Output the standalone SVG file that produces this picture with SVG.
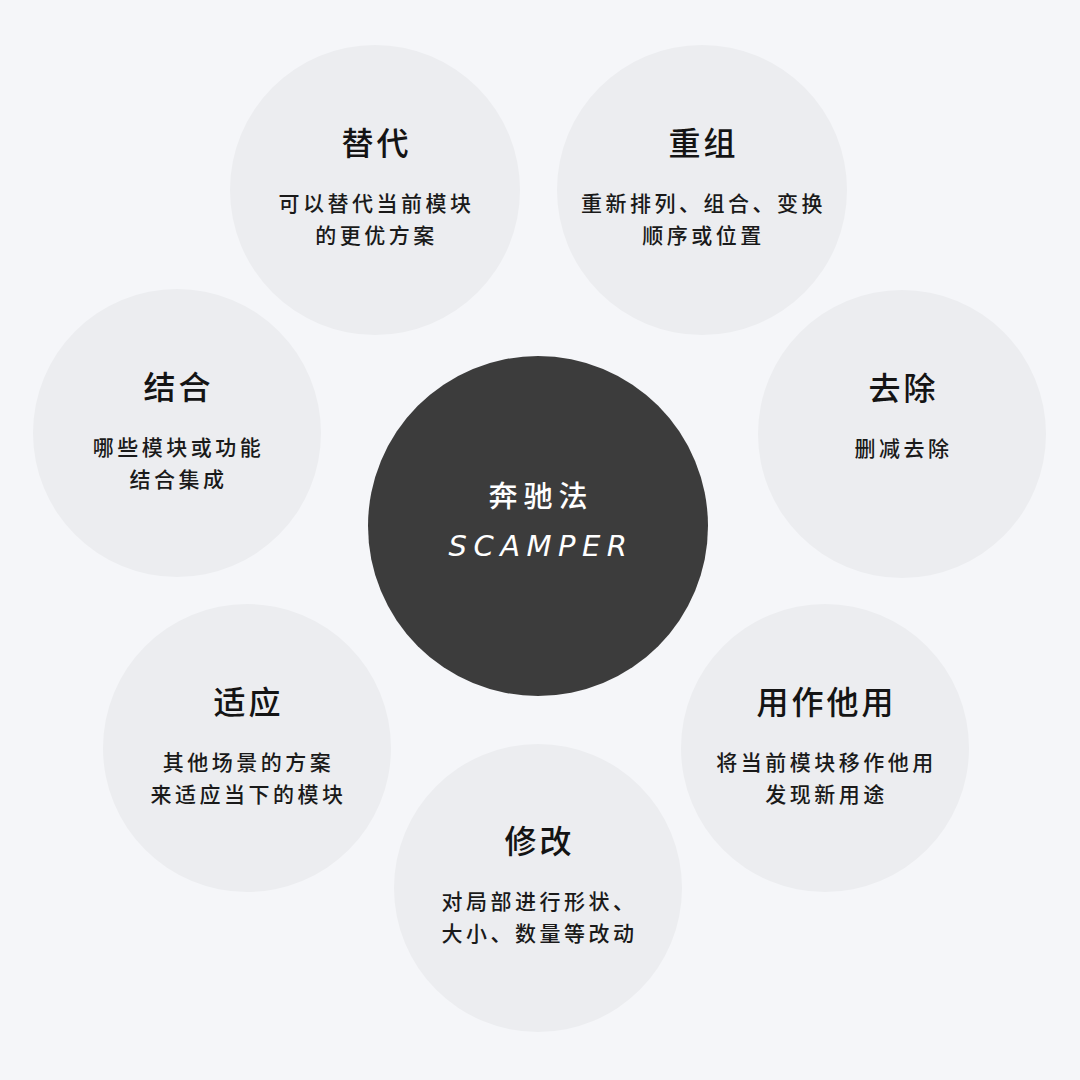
<svg xmlns="http://www.w3.org/2000/svg" width="1080" height="1080" viewBox="0 0 1080 1080">
<style>
.bg{fill:#f5f6f9}
.c{fill:#ecedf0}
.core{fill:#3c3c3c}
.t{font-family:"Noto Sans CJK SC","Noto Sans",sans-serif;font-size:32px;font-weight:500;fill:#141414;text-anchor:middle;dominant-baseline:central;letter-spacing:3px}
.s{font-family:"Noto Sans CJK SC","Noto Sans",sans-serif;font-size:21px;font-weight:500;fill:#1a1a1a;text-anchor:middle;dominant-baseline:central;letter-spacing:3.5px}
.ct{font-family:"Noto Sans CJK SC","Noto Sans",sans-serif;font-size:29px;font-weight:500;fill:#ffffff;text-anchor:middle;dominant-baseline:central;letter-spacing:6px}
.ce{font-family:"DejaVu Sans","Liberation Sans",sans-serif;font-size:29px;font-style:italic;fill:#ffffff;text-anchor:middle;dominant-baseline:central;letter-spacing:6.5px}
</style>
<rect class="bg" x="0" y="0" width="1080" height="1080"/>
<g id="connectors"></g>
<g id="node-substitute">
<circle class="c" cx="375" cy="190" r="145"/>
<text class="t" x="376.5" y="141">替代</text>
<text class="s" x="376.5" y="202">可以替代当前模块</text>
<text class="s" x="376.5" y="234">的更优方案</text>
</g>
<g id="node-rearrange">
<circle class="c" cx="702" cy="190" r="145"/>
<text class="t" x="703.5" y="141">重组</text>
<text class="s" x="703.5" y="202">重新排列、组合、变换</text>
<text class="s" x="703.5" y="234">顺序或位置</text>
</g>
<g id="node-combine">
<circle class="c" cx="177" cy="433" r="144"/>
<text class="t" x="178.5" y="385">结合</text>
<text class="s" x="178.5" y="446">哪些模块或功能</text>
<text class="s" x="178.5" y="478">结合集成</text>
</g>
<g id="node-eliminate">
<circle class="c" cx="902" cy="434" r="144"/>
<text class="t" x="903.5" y="386">去除</text>
<text class="s" x="903.5" y="447">删减去除</text>
</g>
<g id="node-adapt">
<circle class="c" cx="247" cy="748" r="144"/>
<text class="t" x="248.5" y="700">适应</text>
<text class="s" x="248.5" y="761">其他场景的方案</text>
<text class="s" x="248.5" y="793">来适应当下的模块</text>
</g>
<g id="node-put-to-other-use">
<circle class="c" cx="825" cy="748" r="144"/>
<text class="t" x="826.5" y="700">用作他用</text>
<text class="s" x="826.5" y="761">将当前模块移作他用</text>
<text class="s" x="826.5" y="793">发现新用途</text>
</g>
<g id="node-modify">
<circle class="c" cx="538" cy="888" r="144"/>
<text class="t" x="539.5" y="839">修改</text>
<text class="s" x="539.5" y="900">对局部进行形状、</text>
<text class="s" x="539.5" y="932">大小、数量等改动</text>
</g>
<g id="node-center">
<circle class="core" cx="538" cy="526" r="170"/>
<text class="ct" x="541" y="494">奔驰法</text>
<text class="ce" x="541" y="546">SCAMPER</text>
</g>
</svg>
